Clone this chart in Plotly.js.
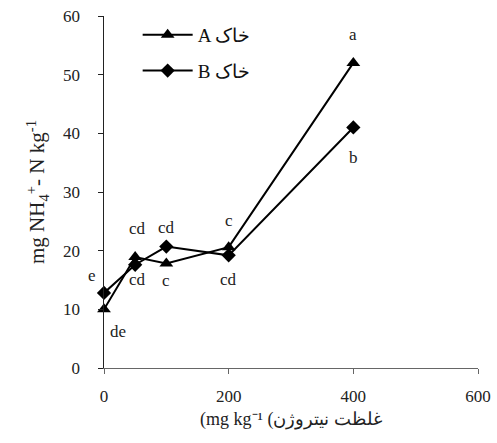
<!DOCTYPE html>
<html><head><meta charset="utf-8">
<script src="https://cdn.plot.ly/plotly-3.0.1.min.js"></script>
<style>html,body{margin:0;padding:0;background:#fff}#chart{width:497px;height:443px}</style>
</head><body><div id="chart"></div>
<script>
const nitrogen = [0, 50, 100, 200, 400];
const soilA = [10, 18.9, 17.8, 20.6, 52];
const soilB = [12.8, 17.6, 20.7, 19.2, 41];
const lettersA = ["de", "cd", "c", "c", "a"];
const lettersB = ["e", "cd", "cd", "cd", "b"];
const nameA = "\u202AA خاک\u202C";
const nameB = "\u202AB خاک\u202C";
const xTitle = "\u202A(mg kg⁻¹ (غلظت نیتروژن\u202C";
const xTicks = [0, 200, 400, 600];
const yTicks = [0, 10, 20, 30, 40, 50, 60];

// label offsets (pixels) relative to each point
const offA = [[14, -22], [2, 29], [0, -17], [0, 27], [0, 28]];
const offB = [[-12, 17], [2, -15], [0, 19], [0, -24], [0, -30]];

const font = "Liberation Serif, Times New Roman, serif";
const ann = [];
nitrogen.forEach((x, i) => {
  ann.push({x: x, y: soilA[i], text: lettersA[i], showarrow: false, xshift: offA[i][0], yshift: offA[i][1], font: {family: font, size: 17, color: "#222"}});
  ann.push({x: x, y: soilB[i], text: lettersB[i], showarrow: false, xshift: offB[i][0], yshift: offB[i][1], font: {family: font, size: 17, color: "#222"}});
});

const traces = [
  {x: nitrogen, y: soilA, name: nameA, type: "scatter", mode: "lines+markers", cliponaxis: false, legendgroup: "a",
   line: {color: "#000", width: 2}, marker: {symbol: "triangle-up", size: 12, color: "#000"}},
  {x: nitrogen, y: soilB, name: nameB, type: "scatter", mode: "lines+markers", cliponaxis: false, legendgroup: "b",
   line: {color: "#000", width: 2}, marker: {symbol: "diamond", size: 11, color: "#000"}}
];

const layout = {
  width: 497, height: 443,
  margin: {l: 104, r: 19, t: 16, b: 75},
  paper_bgcolor: "#fff", plot_bgcolor: "#fff",
  font: {family: font, size: 17, color: "#222"},
  showlegend: true,
  legend: {x: 0.09, y: 1.0, xanchor: "left", yanchor: "top", bgcolor: "rgba(0,0,0,0)",
           traceorder: "grouped", tracegroupgap: 8, font: {family: font, size: 19, color: "#111"}, itemwidth: 50},
  xaxis: {range: [0, 600], tickvals: xTicks, ticktext: xTicks.map(String), showgrid: false, zeroline: false,
          showline: true, linecolor: "#666", linewidth: 1, ticks: "outside", ticklen: 5, tickcolor: "#666",
          ticklabelstandoff: 8,
          tickfont: {family: font, size: 17, color: "#222"},
          title: {text: xTitle, font: {family: font, size: 18, color: "#222"}, standoff: 6}},
  yaxis: {range: [0, 60], tickvals: yTicks, showgrid: false, zeroline: false,
          showline: true, linecolor: "#222", linewidth: 1.5, ticks: "outside", ticklen: 5, tickcolor: "#222",
          ticklabelstandoff: 14,
          tickfont: {family: font, size: 17, color: "#222"},
          title: {text: "mg NH<sub>4</sub><sup>+</sup>- N kg<sup>-1</sup>", font: {family: font, size: 21, color: "#222"}, standoff: 12}},
  annotations: ann
};
Plotly.newPlot("chart", traces, layout, {staticPlot: true, displayModeBar: false});
</script></body></html>
